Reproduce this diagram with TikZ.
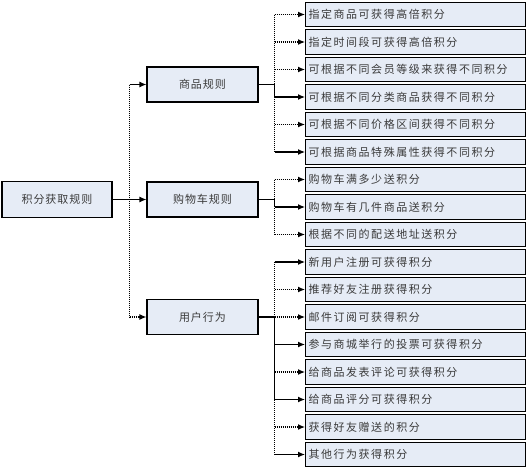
\documentclass[tikz,border=0pt]{standalone}
\usepackage{fontspec}
\setmainfont{Noto Sans CJK SC}
\newfontfamily\leaffont{Noto Sans CJK SC}[LetterSpace=14]
\newfontfamily\midfont{Noto Sans CJK SC}[LetterSpace=9]
\usetikzlibrary{arrows.meta}
\definecolor{boxfill}{HTML}{E6ECF6}
\definecolor{txt}{HTML}{3A3A3A}
\tikzset{
  box/.style={draw=black, line width=1.1pt, fill=boxfill, text=txt, inner sep=0pt},
  rootbox/.style={box, font=\midfont\fontsize{11}{13}\selectfont, minimum width=110pt, minimum height=36pt},
  midbox/.style={box, font=\midfont\fontsize{11}{13}\selectfont, minimum width=111pt, minimum height=35pt},
  leafbox/.style={box, font=\leaffont\fontsize{11}{13}\selectfont, anchor=west, text width=214pt, align=left, inner xsep=3pt, minimum height=24.5pt},
  solidcon/.style={line width=1.2pt, black},
  dotcon/.style={line width=1.4pt, black, dash pattern=on 1pt off 1pt},
  tip/.style={-{Latex[length=7pt,width=6pt]}},
}
\newcommand\hconn[3]{%
  \draw[#3] (#1 |- #2.west) -- ([xshift=-7pt]#2.west);
  \draw[solidcon,tip] ([xshift=-8pt]#2.west) -- (#2.west);
}
\begin{document}
\begin{tikzpicture}[x=1pt,y=-1pt]
\useasboundingbox (0,0) rectangle (528,467);
\fill[white] (0,0) rectangle (528,467);

% root and middle nodes
\node[rootbox] (root) at (57,199.5) {积分获取规则};
\node[midbox] (m1) at (202.5,84.5) {商品规则};
\node[midbox] (m2) at (202.5,199.5) {购物车规则};
\node[midbox] (m3) at (202.5,317) {用户行为};

% leaves
\node[leafbox] (l1)  at (305,14.5)  {指定商品可获得高倍积分};
\node[leafbox] (l2)  at (305,42)    {指定时间段可获得高倍积分};
\node[leafbox] (l3)  at (305,69.5)  {可根据不同会员等级来获得不同积分};
\node[leafbox] (l4)  at (305,97)    {可根据不同分类商品获得不同积分};
\node[leafbox] (l5)  at (305,124.5) {可根据不同价格区间获得不同积分};
\node[leafbox] (l6)  at (305,152)   {可根据商品特殊属性获得不同积分};
\node[leafbox] (l7)  at (305,179.5) {购物车满多少送积分};
\node[leafbox] (l8)  at (305,207)   {购物车有几件商品送积分};
\node[leafbox] (l9)  at (305,234.5) {根据不同的配送地址送积分};
\node[leafbox] (l10) at (305,262)   {新用户注册可获得积分};
\node[leafbox] (l11) at (305,289.5) {推荐好友注册获得积分};
\node[leafbox] (l12) at (305,317)   {邮件订阅可获得积分};
\node[leafbox] (l13) at (305,344.5) {参与商城举行的投票可获得积分};
\node[leafbox] (l14) at (305,372)   {给商品发表评论可获得积分};
\node[leafbox] (l15) at (305,399.5) {给商品评分可获得积分};
\node[leafbox] (l16) at (305,427)   {获得好友赠送的积分};
\node[leafbox] (l17) at (305,454.5) {其他行为获得积分};

% junctions
\coordinate (rj) at ([xshift=17pt]root.east);
\coordinate (j1) at ([xshift=16pt]m1.east);
\coordinate (j2) at ([xshift=16pt]m2.east);
\coordinate (j3) at ([xshift=16pt]m3.east);

% root connectors
\draw[dotcon] (rj |- m1.west) -- (rj |- m3.west);
\draw[solidcon] (root.east) -- (rj);
\hconn{rj}{m1}{solidcon}
\hconn{rj}{m2}{solidcon}
\hconn{rj}{m3}{dotcon}

% group 1
\draw[dotcon] (j1 |- l1.west) -- (j1 |- l6.west);
\draw[solidcon] (m1.east) -- (j1) -- (j1 |- l4.west);
\hconn{j1}{l1}{dotcon}
\hconn{j1}{l2}{dotcon}
\hconn{j1}{l3}{dotcon}
\hconn{j1}{l4}{solidcon}
\hconn{j1}{l5}{dotcon}
\hconn{j1}{l6}{solidcon}

% group 2
\draw[dotcon] (j2 |- l7.west) -- (j2 |- l9.west);
\draw[solidcon] (m2.east) -- (j2) -- (j2 |- l8.west);
\hconn{j2}{l7}{dotcon}
\hconn{j2}{l8}{solidcon}
\hconn{j2}{l9}{dotcon}

% group 3
\draw[dotcon] (j3 |- l10.west) -- (j3 |- l17.west);
\draw[solidcon] (m3.east) -- (j3) -- (j3 |- l15.west);
\hconn{j3}{l10}{solidcon}
\hconn{j3}{l11}{dotcon}
\hconn{j3}{l12}{dotcon}
\hconn{j3}{l13}{solidcon}
\hconn{j3}{l14}{dotcon}
\hconn{j3}{l15}{solidcon}
\hconn{j3}{l16}{dotcon}
\hconn{j3}{l17}{solidcon}
\end{tikzpicture}
\end{document}
